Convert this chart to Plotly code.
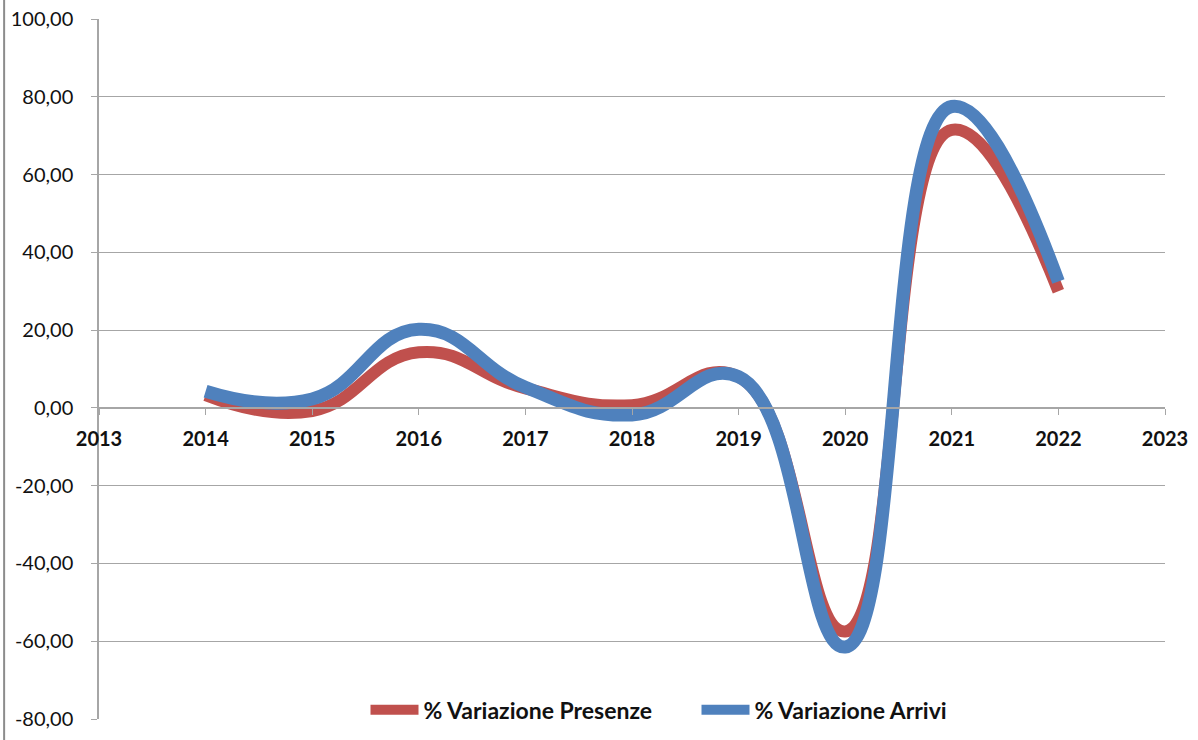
import plotly.graph_objects as go

years = [2014, 2015, 2016, 2017, 2018, 2019, 2020, 2021, 2022]
presenze = [3.3, -0.8, 14.3, 5.0, 0.7, 8.0, -57.5, 71.5, 30.0]
arrivi = [4.3, 2.3, 20.2, 5.3, -1.8, 8.0, -61.5, 77.5, 32.5]

x_ticks = list(range(2013, 2024))
y_ticks = list(range(-80, 101, 20))
y_labels = [f'{v:.2f}'.replace('.', ',') for v in y_ticks]

RED = '#C0504D'
BLUE = '#4F81BD'
GRID = '#A6A6A6'
FONT = 'Lato'

fig = go.Figure()
fig.add_trace(go.Scatter(
    x=years, y=presenze, name='% Variazione Presenze', mode='lines',
    line=dict(color=RED, width=12, shape='spline', smoothing=1.3),
))
fig.add_trace(go.Scatter(
    x=years, y=arrivi, name='% Variazione Arrivi', mode='lines',
    line=dict(color=BLUE, width=13, shape='spline', smoothing=1.3),
))

# x axis sits on the zero line
zero_pos = (0 - y_ticks[0]) / (y_ticks[-1] - y_ticks[0])

fig.update_layout(
    width=1198, height=740,
    margin=dict(l=99, r=33, t=19, b=21, autoexpand=False),
    paper_bgcolor='white', plot_bgcolor='white',
    font=dict(family=FONT, color='#111111'),
    showlegend=True,
    legend=dict(
        orientation='h', x=0.25, xanchor='left', y=0.013, yanchor='middle',
        bgcolor='rgba(0,0,0,0)', font=dict(size=23, weight='bold', color='#111111'),
        itemwidth=48, tracegroupgap=0,
        entrywidth=268, entrywidthmode='pixels',
    ),
    shapes=[dict(
        type='line', xref='paper', yref='paper',
        x0=-0.089, x1=-0.089, y0=-0.04, y1=1.04,
        line=dict(color='#8C8C8C', width=2),
    )],
)
fig.update_xaxes(
    range=[x_ticks[0], x_ticks[-1]], tickvals=x_ticks,
    anchor='free', position=zero_pos, automargin=False,
    showgrid=False, zeroline=False,
    showline=True, linecolor=GRID, linewidth=1.5,
    ticks='outside', ticklen=6, tickcolor=GRID,
    tickfont=dict(size=20, weight='bold', color='#111111'),
    ticklabelstandoff=7, ticklabeloverflow='allow',
)
fig.update_yaxes(
    range=[y_ticks[0], y_ticks[-1]], tickvals=y_ticks, ticktext=y_labels,
    automargin=False,
    showgrid=True, gridcolor=GRID, gridwidth=1.2, zeroline=False,
    showline=True, linecolor=GRID, linewidth=1.5,
    ticks='outside', ticklen=6, tickcolor=GRID,
    tickfont=dict(size=20, color='#111111'),
    ticklabelstandoff=14, ticklabeloverflow='allow',
)

# drop the default 8px body margin so the figure fills the window exactly
fig.write_html(
    'out.html',
    config={'displayModeBar': False},
    post_script="document.body.style.margin = '0';",
)
